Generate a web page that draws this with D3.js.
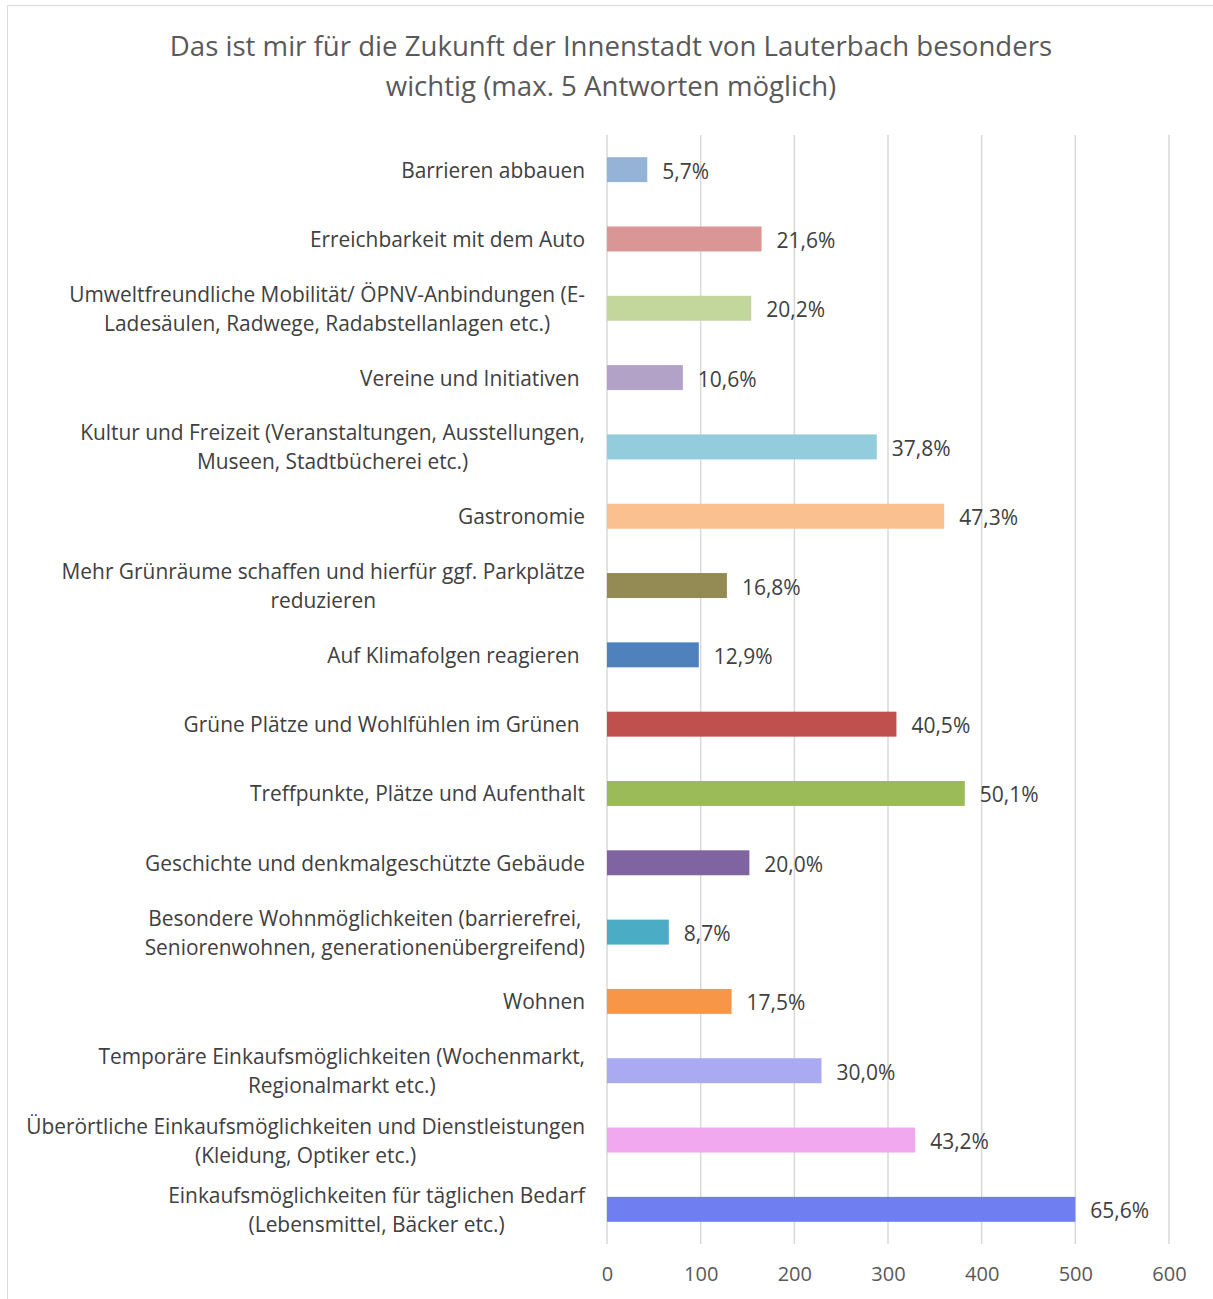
<!DOCTYPE html>
<html>
<head>
<meta charset="utf-8">
<script src="https://cdn.jsdelivr.net/npm/d3@7"></script>
<style>
  body { margin: 0; background: #fff; }
  text { font-family: "Open Sans", sans-serif; white-space: pre; }
</style>
</head>
<body>
<svg id="chart"></svg>
<script>
const width = 1213;
const height = 1299;

// categories, top to bottom; "\n" marks a line break
const categories = [
  "Barrieren abbauen",
  "Erreichbarkeit mit dem Auto",
  "Umweltfreundliche Mobilität/ ÖPNV-Anbindungen (E-\nLadesäulen, Radwege, Radabstellanlagen etc.)",
  "Vereine und Initiativen ",
  "Kultur und Freizeit (Veranstaltungen, Ausstellungen,\nMuseen, Stadtbücherei etc.)",
  "Gastronomie",
  "Mehr Grünräume schaffen und hierfür ggf. Parkplätze\nreduzieren",
  "Auf Klimafolgen reagieren ",
  "Grüne Plätze und Wohlfühlen im Grünen ",
  "Treffpunkte, Plätze und Aufenthalt",
  "Geschichte und denkmalgeschützte Gebäude",
  "Besondere Wohnmöglichkeiten (barrierefrei,\nSeniorenwohnen, generationenübergreifend)",
  "Wohnen",
  "Temporäre Einkaufsmöglichkeiten (Wochenmarkt,\nRegionalmarkt etc.)",
  "Überörtliche Einkaufsmöglichkeiten und Dienstleistungen\n(Kleidung, Optiker etc.)",
  "Einkaufsmöglichkeiten für täglichen Bedarf\n(Lebensmittel, Bäcker etc.)"
];
// number of answers
const counts = [43, 165, 154, 81, 288, 360, 128, 98, 309, 382, 152, 66, 133, 229, 329, 500];
// data labels as printed
const percents = ["5,7%", "21,6%", "20,2%", "10,6%", "37,8%", "47,3%", "16,8%", "12,9%",
  "40,5%", "50,1%", "20,0%", "8,7%", "17,5%", "30,0%", "43,2%", "65,6%"];
const barColors = ["#95b3d7", "#d99694", "#c3d69b", "#b3a2c7", "#93cddd", "#fac090",
  "#948a54", "#4f81bd", "#c0504d", "#9bbb59", "#8064a2", "#4bacc6", "#f79646",
  "#aaaaf2", "#f2a8ee", "#6f7ff2"];
const xTicks = [0, 100, 200, 300, 400, 500, 600];
const titleLines = [
  "Das ist mir für die Zukunft der Innenstadt von Lauterbach besonders",
  "wichtig (max. 5 Antworten möglich)"
];

const svg = d3.select('#chart')
  .attr('width', width)
  .attr('height', height);

// chart frame
svg.append('rect')
  .attr('x', 7.5).attr('y', 5.5)
  .attr('width', 1400).attr('height', 1400)
  .attr('fill', '#fff')
  .attr('stroke', '#d9d9d9');

const x = d3.scaleLinear().domain([0, 600]).range([607, 1169]);
const y = d3.scaleBand().domain(d3.range(categories.length))
  .range([135, 1244])
  .paddingInner(0.64).paddingOuter(0.32);

// title
svg.append('g').selectAll('text')
  .data(titleLines)
  .enter().append('text')
  .attr('x', 611)
  .attr('y', (d, i) => 45 + i * 40)
  .attr('text-anchor', 'middle')
  .attr('dominant-baseline', 'central')
  .attr('font-size', 27.6)
  .attr('fill', '#595959')
  .text(d => d);

// gridlines
svg.append('g').selectAll('line')
  .data(xTicks)
  .enter().append('line')
  .attr('x1', d => x(d)).attr('x2', d => x(d))
  .attr('y1', 135).attr('y2', 1244)
  .attr('stroke', '#d9d9d9')
  .attr('stroke-width', 1.5);

// x axis labels
const xAxis = d3.axisBottom(x).tickValues(xTicks).tickSize(0).tickPadding(0);
const axisG = svg.append('g')
  .attr('transform', 'translate(0,1267)')
  .call(xAxis);
axisG.select('.domain').remove();
axisG.selectAll('text')
  .attr('font-family', '"Open Sans", sans-serif')
  .attr('font-size', 20)
  .attr('fill', '#595959');

// bars
svg.append('g').selectAll('rect')
  .data(counts)
  .enter().append('rect')
  .attr('x', x(0))
  .attr('y', (d, i) => y(i))
  .attr('width', d => x(d) - x(0))
  .attr('height', y.bandwidth())
  .attr('fill', (d, i) => barColors[i]);

// value labels
svg.append('g').selectAll('text')
  .data(counts)
  .enter().append('text')
  .attr('x', d => x(d) + 15)
  .attr('y', (d, i) => y(i) + y.bandwidth() / 2 + 1)
  .attr('dominant-baseline', 'central')
  .attr('font-size', 21)
  .attr('fill', '#404040')
  .text((d, i) => percents[i]);

// category labels: lines centered within a block right-aligned at x=585
const labelG = svg.append('g');
categories.forEach((c, i) => {
  const lines = c.split('\n');
  const cy = y(i) + y.bandwidth() / 2;
  const t = labelG.append('text')
    .attr('font-size', 20.9)
    .attr('fill', '#404040')
    .attr('text-anchor', 'middle')
    .attr('dominant-baseline', 'central');
  const spans = lines.map((l, j) => t.append('tspan')
    .attr('y', cy + (j - (lines.length - 1) / 2) * 29)
    .text(l));
  const maxW = d3.max(spans, s => s.node().getComputedTextLength());
  spans.forEach(s => s.attr('x', 585 - maxW / 2));
});
</script>
</body>
</html>
